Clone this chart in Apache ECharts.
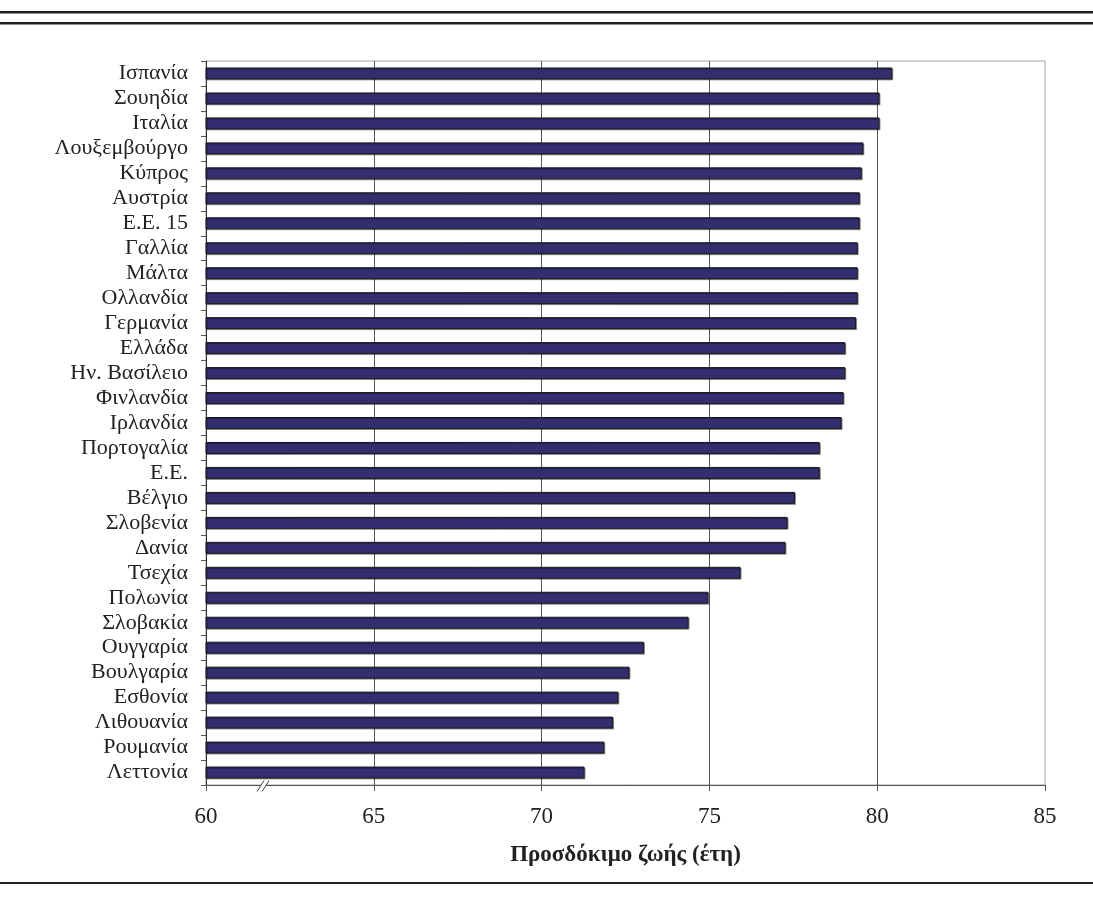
<!DOCTYPE html>
<html>
<head>
<meta charset="utf-8">
<script src="https://cdn.jsdelivr.net/npm/echarts@6/dist/echarts.min.js"></script>
<style>
html,body{margin:0;padding:0;background:#fff;}
#chart{width:1093px;height:909px;}
</style>
</head>
<body>
<div id="chart"></div>
<script>
const categories = ["Ισπανία","Σουηδία","Ιταλία","Λουξεμβούργο","Κύπρος","Αυστρία","Ε.Ε. 15","Γαλλία","Μάλτα","Ολλανδία","Γερμανία","Ελλάδα","Ην. Βασίλειο","Φινλανδία","Ιρλανδία","Πορτογαλία","Ε.Ε.","Βέλγιο","Σλοβενία","Δανία","Τσεχία","Πολωνία","Σλοβακία","Ουγγαρία","Βουλγαρία","Εσθονία","Λιθουανία","Ρουμανία","Λεττονία"];
const lifeExpectancy = [80.45,80.07,80.07,79.59,79.54,79.48,79.48,79.42,79.42,79.42,79.37,79.05,79.05,79.0,78.94,78.29,78.29,77.55,77.33,77.27,75.93,74.97,74.38,73.05,72.62,72.29,72.13,71.87,71.28];
const xTicks = [60,65,70,75,80,85];
const axisTitle = "Προσδόκιμο ζωής (έτη)";
const breakValue = 61.7;

const font = "'Liberation Serif','DejaVu Serif',serif";
const chart = echarts.init(document.getElementById('chart'), null, {renderer:'canvas'});
const baseGraphics = [
  {type:'rect',shape:{x:0,y:11,width:1093,height:2.5},style:{fill:'#222'}},
  {type:'rect',shape:{x:0,y:22,width:1093,height:2.5},style:{fill:'#222'}},
  {type:'rect',shape:{x:0,y:882,width:1093,height:2},style:{fill:'#222'}}
];
const option = {
  animation:false,
  backgroundColor:'#fff',
  grid:{left:206,right:48,top:61,bottom:124,show:true,borderColor:'#a0a0a0',borderWidth:1,backgroundColor:'transparent'},
  xAxis:{
    type:'value',min:xTicks[0],max:xTicks[xTicks.length-1],interval:5,
    name:axisTitle,nameLocation:'middle',nameGap:59,
    nameTextStyle:{fontFamily:font,fontSize:23,fontWeight:'bold',color:'#222'},
    axisLine:{show:true,lineStyle:{color:'#555',width:1}},
    axisTick:{show:true,length:6,lineStyle:{color:'#555'}},
    axisLabel:{fontFamily:font,fontSize:23,color:'#222',margin:20},
    splitLine:{show:true,showMinLine:false,showMaxLine:false,lineStyle:{color:'#555',width:1}}
  },
  yAxis:{
    type:'category',data:categories,inverse:true,
    axisLine:{show:true,lineStyle:{color:'#333',width:1}},
    axisTick:{show:true,length:5,interval:0,lineStyle:{color:'#555'}},
    axisLabel:{fontFamily:font,fontSize:22,color:'#222',margin:18,interval:0},
    splitLine:{show:false}
  },
  series:[{
    type:'bar',data:lifeExpectancy,barWidth:12,
    itemStyle:{color:'#322e70',borderColor:'#1a1a1a',borderWidth:1,shadowColor:'rgba(0,0,0,0.35)',shadowOffsetX:1,shadowOffsetY:1}
  }],
  graphic:baseGraphics
};
chart.setOption(option);
const p = chart.convertToPixel({xAxisIndex:0},breakValue);
const yb = chart.convertToPixel({yAxisIndex:0},categories.length-1) + 13;
chart.setOption({graphic:baseGraphics.concat([
  {type:'polygon',shape:{points:[[p-6,yb+6],[p-1,yb+6],[p+6,yb-5],[p+1,yb-5]]},style:{fill:'#fff'},z:100},
  {type:'line',shape:{x1:p-6,y1:yb+6,x2:p+1,y2:yb-5},style:{stroke:'#444',lineWidth:1},z:101},
  {type:'line',shape:{x1:p-1,y1:yb+6,x2:p+6,y2:yb-5},style:{stroke:'#444',lineWidth:1},z:101}
])});
</script>
</body>
</html>
